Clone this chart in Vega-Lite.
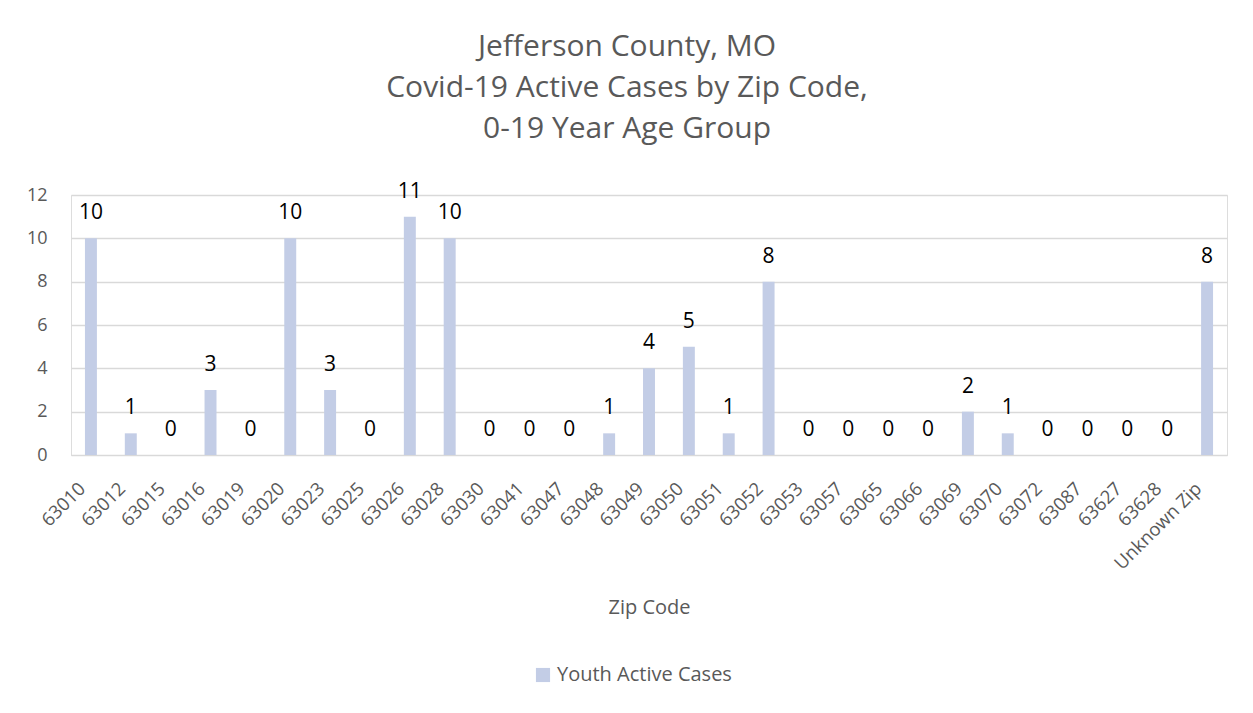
{
  "$schema": "https://vega.github.io/schema/vega-lite/v6.json",
  "width": 1156,
  "height": 260,
  "autosize": "none",
  "padding": {"left": 71, "top": 195, "right": 26, "bottom": 258},
  "background": "white",
  "title": {
    "text": ["Jefferson County, MO", "Covid-19 Active Cases by Zip Code,", "0-19 Year Age Group"],
    "font": "Open Sans",
    "fontSize": 30,
    "fontWeight": "normal",
    "color": "#595959",
    "lineHeight": 41,
    "anchor": "middle",
    "dx": -22,
    "offset": 37
  },
  "data": {
    "values": [
      {"zip": "63010", "cases": 10},
      {"zip": "63012", "cases": 1},
      {"zip": "63015", "cases": 0},
      {"zip": "63016", "cases": 3},
      {"zip": "63019", "cases": 0},
      {"zip": "63020", "cases": 10},
      {"zip": "63023", "cases": 3},
      {"zip": "63025", "cases": 0},
      {"zip": "63026", "cases": 11},
      {"zip": "63028", "cases": 10},
      {"zip": "63030", "cases": 0},
      {"zip": "63041", "cases": 0},
      {"zip": "63047", "cases": 0},
      {"zip": "63048", "cases": 1},
      {"zip": "63049", "cases": 4},
      {"zip": "63050", "cases": 5},
      {"zip": "63051", "cases": 1},
      {"zip": "63052", "cases": 8},
      {"zip": "63053", "cases": 0},
      {"zip": "63057", "cases": 0},
      {"zip": "63065", "cases": 0},
      {"zip": "63066", "cases": 0},
      {"zip": "63069", "cases": 2},
      {"zip": "63070", "cases": 1},
      {"zip": "63072", "cases": 0},
      {"zip": "63087", "cases": 0},
      {"zip": "63627", "cases": 0},
      {"zip": "63628", "cases": 0},
      {"zip": "Unknown Zip", "cases": 8}
    ]
  },
  "transform": [{"calculate": "'Youth Active Cases'", "as": "series"}],
  "encoding": {
    "x": {
      "field": "zip",
      "type": "nominal",
      "sort": null,
      "scale": {"paddingInner": 0.7, "paddingOuter": 0.35},
      "axis": {
        "title": "Zip Code",
        "titleFont": "Open Sans",
        "titleFontSize": 20,
        "titleFontWeight": "normal",
        "titleColor": "#595959",
        "titleY": 142,
        "titleBaseline": "top",
        "labelAngle": -45,
        "labelFont": "Open Sans",
        "labelFontSize": 18.5,
        "labelColor": "#595959",
        "labelPadding": 24,
        "labelOffset": -15,
        "domain": true,
        "domainColor": "#d9d9d9",
        "ticks": false,
        "grid": false
      }
    },
    "y": {
      "field": "cases",
      "type": "quantitative",
      "scale": {"domain": [0, 12]},
      "axis": {
        "title": null,
        "values": [0, 2, 4, 6, 8, 10, 12],
        "labelFont": "Open Sans",
        "labelFontSize": 18,
        "labelColor": "#595959",
        "labelPadding": 24,
        "domain": false,
        "ticks": false,
        "grid": true,
        "gridColor": "#d9d9d9",
        "gridWidth": 1.3
      }
    }
  },
  "layer": [
    {
      "mark": {"type": "bar"},
      "encoding": {
        "color": {
          "field": "series",
          "type": "nominal",
          "scale": {"range": ["#c3cde6"]},
          "legend": {
            "title": null,
            "orient": "none",
            "legendX": 462,
            "legendY": 470,
            "symbolType": "square",
            "symbolSize": 200,
            "symbolStrokeWidth": 0,
            "labelFont": "Open Sans",
            "labelFontSize": 20,
            "labelLimit": 400,
            "labelColor": "#595959",
            "symbolOffset": 0
          }
        }
      }
    },
    {
      "mark": {"type": "text", "font": "Open Sans", "fontSize": 21, "color": "#000000", "baseline": "alphabetic", "dy": -19},
      "encoding": {"text": {"field": "cases", "type": "quantitative"}}
    }
  ]
}
